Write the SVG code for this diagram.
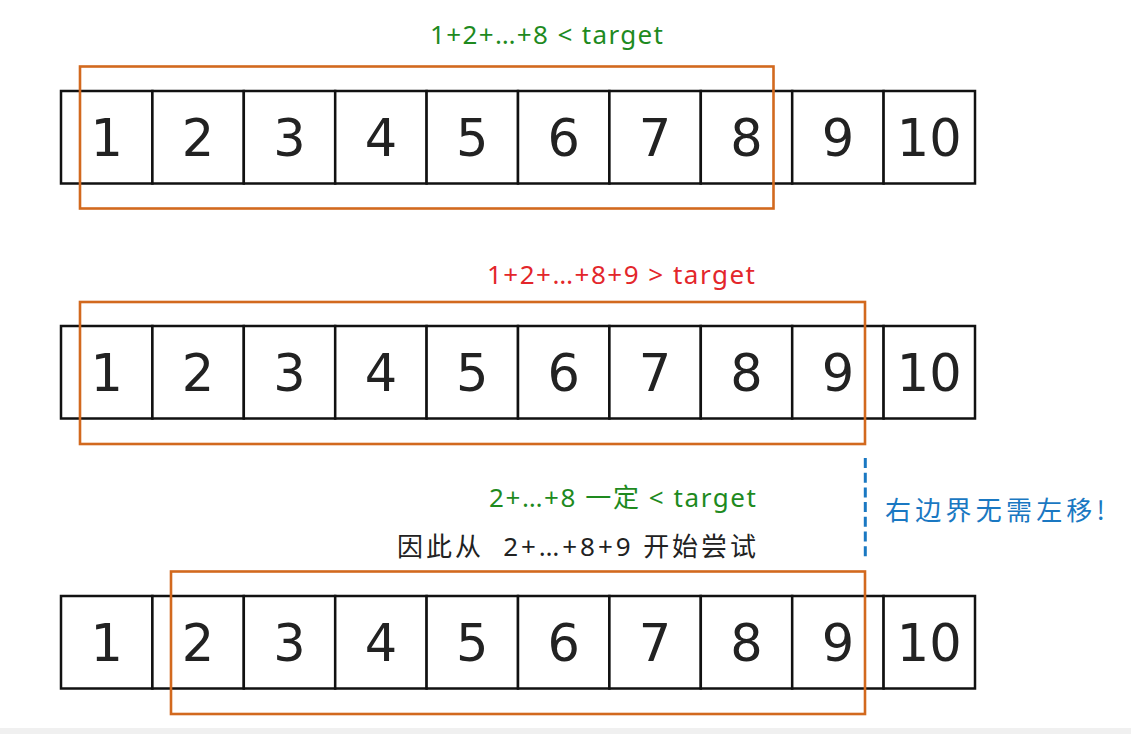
<svg xmlns="http://www.w3.org/2000/svg" width="1131" height="734" viewBox="0 0 1131 734">
<style>
.cell{fill:#fff;stroke:#111;stroke-width:2.5}
.num{font-family:"DejaVu Sans","Liberation Sans",sans-serif;font-size:51px;fill:#222;text-anchor:middle}
.win{fill:none;stroke:#d2691e;stroke-width:2.6}
.lbl{font-family:"Noto Sans","Noto Sans CJK SC",sans-serif;font-size:26px}
.cjk{font-family:"Noto Sans CJK SC","Noto Sans",sans-serif;font-size:26px}
</style>
<rect x="0" y="0" width="1131" height="734" fill="#fff"/>
<rect x="0" y="728" width="1131" height="6" fill="#f0f0f0"/>
<defs>
<g id="row">
<rect class="cell" x="61" y="0" width="91.4" height="92.5"/>
<rect class="cell" x="152.4" y="0" width="91.4" height="92.5"/>
<rect class="cell" x="243.8" y="0" width="91.4" height="92.5"/>
<rect class="cell" x="335.2" y="0" width="91.4" height="92.5"/>
<rect class="cell" x="426.6" y="0" width="91.4" height="92.5"/>
<rect class="cell" x="518" y="0" width="91.4" height="92.5"/>
<rect class="cell" x="609.4" y="0" width="91.4" height="92.5"/>
<rect class="cell" x="700.8" y="0" width="91.4" height="92.5"/>
<rect class="cell" x="792.2" y="0" width="91.4" height="92.5"/>
<rect class="cell" x="883.6" y="0" width="91.4" height="92.5"/>
<text class="num" x="106.7" y="65">1</text>
<text class="num" x="198.1" y="65">2</text>
<text class="num" x="289.5" y="65">3</text>
<text class="num" x="380.9" y="65">4</text>
<text class="num" x="472.3" y="65">5</text>
<text class="num" x="563.7" y="65">6</text>
<text class="num" x="655.1" y="65">7</text>
<text class="num" x="746.5" y="65">8</text>
<text class="num" x="837.9" y="65">9</text>
<text class="num" x="929.3" y="65">10</text>
</g>
</defs>
<g id="row1">
<use href="#row" y="91"/>
<rect class="win" x="80" y="66.5" width="693.5" height="142"/>
<text class="lbl" x="430" y="44" fill="#1e8a1e" textLength="233" lengthAdjust="spacing">1+2+…+8 &lt; target</text>
</g>
<g id="row2">
<use href="#row" y="326"/>
<rect class="win" x="80" y="302" width="785" height="142"/>
<text class="lbl" x="487" y="284" fill="#e3262b" textLength="268" lengthAdjust="spacing">1+2+…+8+9 &gt; target</text>
</g>
<g id="row3">
<use href="#row" y="596"/>
<rect class="win" x="171" y="571.5" width="694" height="142.5"/>
<text class="lbl" x="489" y="507" fill="#1e8a1e" textLength="267" lengthAdjust="spacing">2+…+8 一定 &lt; target</text>
<text class="lbl" x="397" y="556" fill="#222" style="white-space:pre" textLength="359" lengthAdjust="spacing">因此从  2+…+8+9 开始尝试</text>
</g>
<g id="note">
<text class="cjk" x="885" y="520" fill="#1a78c2" font-size="27" textLength="220" lengthAdjust="spacing">右边界无需左移!</text>
</g>
<g id="connectors">
<line x1="865.3" y1="458" x2="865.3" y2="557" stroke="#1a78c2" stroke-width="3" stroke-dasharray="10,4.7"/>
</g>
</svg>
